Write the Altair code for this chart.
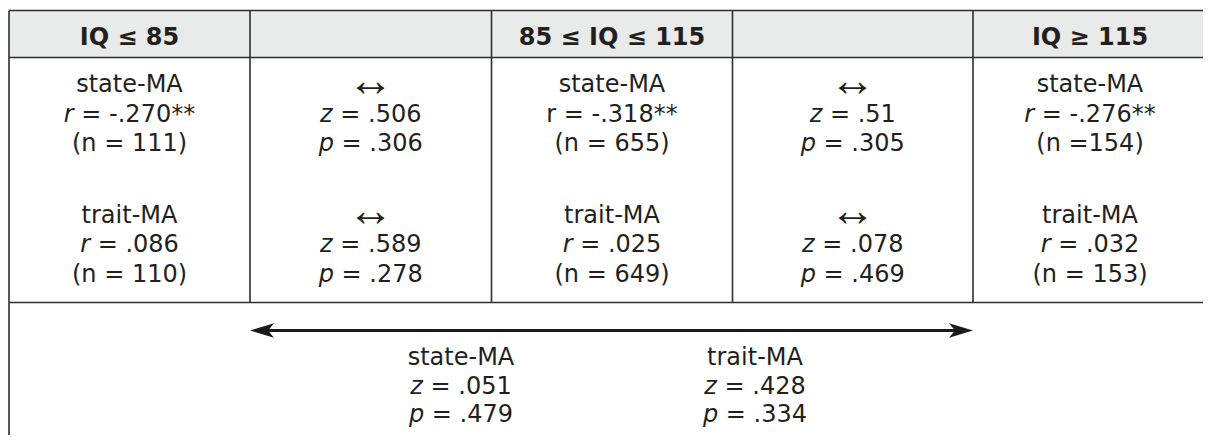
import altair as alt
import pandas as pd

# ---------------- data ----------------
header_labels = ["IQ ≤ 85", "", "85 ≤ IQ ≤ 115", "", "IQ ≥ 115"]
groups = ["state-MA", "trait-MA"]
group_r = [["-.270**", "-.318**", "-.276**"], [".086", ".025", ".032"]]
group_r_italic = [[True, False, True], [True, True, True]]
group_n = [["(n = 111)", "(n = 655)", "(n =154)"], ["(n = 110)", "(n = 649)", "(n = 153)"]]
cmp_symbol = "↔"
cmp_z = [[".506", ".51"], [".589", ".078"]]
cmp_p = [[".306", ".305"], [".278", ".469"]]
overall_labels = ["state-MA", "trait-MA"]
overall_z = [".051", ".428"]
overall_p = [".479", ".334"]

# ---------------- layout (image pixel space) ----------------
FONT = "DejaVu Sans"
SYM_FONT = "Liberation Sans"
FS = 24
SYM_FS = 46
INK = "#231f20"
LINE = "#2e2e2e"
HEADER_FILL = "#e9eaea"

col_edges = [9, 250, 491.5, 732.5, 973, 1207]
right_edge = 1211
table_top, header_bottom, row_bottom, page_bottom = 10.5, 57.5, 302.5, 443
header_baseline = 44.5
block_baselines = [92, 222.5]
line_pitch = 29.5
overall_x = [461, 755]
overall_baseline = 365
overall_pitch = 28.5
arrow_y = 330.5
arrow_head = 24

centers = [(a + b) / 2 for a, b in zip(col_edges[:-1], col_edges[1:])]

# approximate DejaVu Sans advance widths (em)
W = {" ": 0.318, ".": 0.318, "-": 0.361, "=": 0.838, "*": 0.5, "(": 0.39, ")": 0.39, "n": 0.634}
for d in "0123456789":
    W[d] = 0.636
ITALIC_W = {"r": 0.411, "z": 0.525, "p": 0.635}


def width(s):
    return sum(W.get(c, 0.6) for c in s) * FS


rows_center, rows_left, rows_italic, rows_bold, rows_sym = [], [], [], [], []


def split_line(letter, value, cx, y):
    rest = "= " + value
    lw = ITALIC_W[letter] * FS + W[" "] * FS
    total = lw + width(rest)
    x0 = cx - total / 2
    rows_italic.append({"x": x0, "y": y, "t": letter})
    rows_left.append({"x": x0 + lw, "y": y, "t": rest})


for ci, lab in enumerate(header_labels):
    if lab:
        rows_bold.append({"x": centers[ci], "y": header_baseline, "t": lab})

for g, b0 in enumerate(block_baselines):
    for k, col in enumerate([0, 2, 4]):
        cx = centers[col]
        rows_center.append({"x": cx, "y": b0, "t": groups[g]})
        if group_r_italic[g][k]:
            split_line("r", group_r[g][k], cx, b0 + line_pitch)
        else:
            rows_center.append({"x": cx, "y": b0 + line_pitch, "t": "r = " + group_r[g][k]})
        rows_center.append({"x": cx, "y": b0 + 2 * line_pitch, "t": group_n[g][k]})
    for k, col in enumerate([1, 3]):
        cx = centers[col]
        # symbol centred on the text's cap-middle
        sym_base = b0 - 0.36 * FS + 0.27 * SYM_FS
        rows_sym.append({"x": cx, "y": sym_base, "t": cmp_symbol})
        split_line("z", cmp_z[g][k], cx, b0 + line_pitch)
        split_line("p", cmp_p[g][k], cx, b0 + 2 * line_pitch)

for k, cx in enumerate(overall_x):
    rows_center.append({"x": cx, "y": overall_baseline, "t": overall_labels[k]})
    split_line("z", overall_z[k], cx, overall_baseline + overall_pitch)
    split_line("p", overall_p[k], cx, overall_baseline + 2 * overall_pitch)

# lines
hlines = [{"x": col_edges[0], "x2": right_edge, "y": yy, "y2": yy} for yy in (table_top, header_bottom, row_bottom)]
vlines = [{"x": xx, "x2": xx, "y": table_top, "y2": row_bottom} for xx in col_edges[:-1]]
vlines.append({"x": col_edges[0], "x2": col_edges[0], "y": row_bottom, "y2": page_bottom})
rules = pd.DataFrame(hlines + vlines)

header_rect = pd.DataFrame([{"x": col_edges[0], "x2": right_edge, "y": table_top, "y2": header_bottom}])

arrow_left, arrow_right = col_edges[1], col_edges[4]
shaft = pd.DataFrame([{"x": arrow_left + 8, "x2": arrow_right - 8, "y": arrow_y, "y2": arrow_y}])
heads_l = pd.DataFrame([{"x": arrow_left + arrow_head / 2, "y": arrow_y}])
heads_r = pd.DataFrame([{"x": arrow_right - arrow_head / 2, "y": arrow_y}])

# ---------------- chart ----------------
xs = alt.Scale(domain=[8, 1203], nice=False, zero=False)
ys = alt.Scale(domain=[8, 435], nice=False, zero=False, reverse=True)


def X(f="x"):
    return alt.X(f + ":Q", scale=xs, axis=None)


def Y(f="y"):
    return alt.Y(f + ":Q", scale=ys, axis=None)


base_rect = alt.Chart(header_rect).mark_rect(color=HEADER_FILL, clip=True).encode(
    x=X(), x2="x2:Q", y=Y(), y2="y2:Q")
rule_layer = alt.Chart(rules).mark_rule(color=LINE, strokeWidth=1.6, clip=True).encode(
    x=X(), x2="x2:Q", y=Y(), y2="y2:Q")
shaft_layer = alt.Chart(shaft).mark_rule(color="#1a1a1a", strokeWidth=3).encode(
    x=X(), x2="x2:Q", y=Y(), y2="y2:Q")
head_size = arrow_head ** 2
left_path = "M -1 0 L 1 -0.6 L 0.5 0 L 1 0.6 Z"
right_path = "M 1 0 L -1 -0.6 L -0.5 0 L -1 0.6 Z"
head_l = alt.Chart(heads_l).mark_point(shape=left_path, filled=True, color="#1a1a1a",
                                       size=head_size, opacity=1, strokeWidth=0).encode(x=X(), y=Y())
head_r = alt.Chart(heads_r).mark_point(shape=right_path, filled=True, color="#1a1a1a",
                                       size=head_size, opacity=1, strokeWidth=0).encode(x=X(), y=Y())

txt_kw = dict(color=INK, baseline="alphabetic")
t_center = alt.Chart(pd.DataFrame(rows_center)).mark_text(align="center", font=FONT, fontSize=FS,
                                                          **txt_kw).encode(x=X(), y=Y(), text="t:N")
t_left = alt.Chart(pd.DataFrame(rows_left)).mark_text(align="left", font=FONT, fontSize=FS,
                                                      **txt_kw).encode(x=X(), y=Y(), text="t:N")
t_italic = alt.Chart(pd.DataFrame(rows_italic)).mark_text(align="left", font=FONT, fontStyle="italic",
                                                          fontSize=FS, **txt_kw).encode(x=X(), y=Y(), text="t:N")
t_bold = alt.Chart(pd.DataFrame(rows_bold)).mark_text(align="center", font=FONT, fontWeight="bold",
                                                      fontSize=FS, **txt_kw).encode(x=X(), y=Y(), text="t:N")
t_sym = alt.Chart(pd.DataFrame(rows_sym)).mark_text(align="center", font=SYM_FONT, fontSize=SYM_FS,
                                                    **txt_kw).encode(x=X(), y=Y(), text="t:N")

chart = alt.layer(
    base_rect, rule_layer, shaft_layer, head_l, head_r, t_center, t_left, t_italic, t_bold, t_sym
).properties(width=1195, height=427, padding=0, autosize="none", background="white"
).configure_view(strokeWidth=0)

chart.save("out.html", embed_options={"renderer": "svg", "actions": False})
